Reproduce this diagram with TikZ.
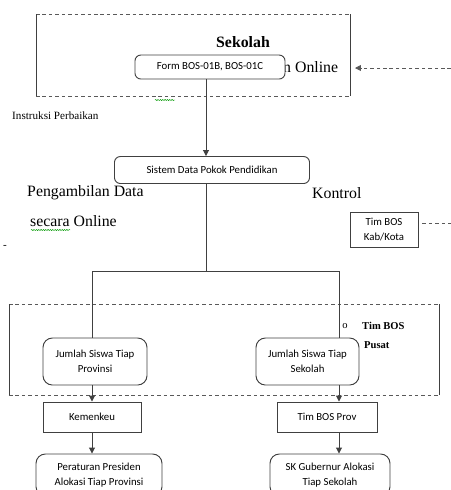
\documentclass[tikz,border=0pt]{standalone}
\usepackage{fontspec}
\setmainfont{Liberation Serif}
\newfontfamily\boxfont{Carlito}
\usetikzlibrary{positioning}
\usetikzlibrary{arrows.meta}
\usetikzlibrary{decorations.pathmorphing}

\begin{document}
\begin{tikzpicture} [x=0.03cm, y=-0.03cm,
	rbox/.style={draw=black!75, line width=0.8pt, rounded corners=5pt, fill=white, align=center, inner sep=0pt, font=\boxfont\fontsize{9.2}{12.75}\selectfont},
	sbox/.style={rbox, rounded corners=0pt},
	bigtext/.style={font=\fontsize{13.5}{16}\selectfont, anchor=west, inner sep=0pt},
	smalltext/.style={font=\fontsize{9.5}{12}\selectfont, anchor=west, inner sep=0pt},
	dashline/.style={black!65, line width=0.7pt, dash pattern=on 3pt off 2.5pt},
	solidline/.style={black!75, line width=0.8pt},
	arr/.style={solidline, -{Triangle[length=5pt, width=5pt]}},
	squiggle/.style={green!60!black, line width=0.4pt, decorate, decoration={snake, amplitude=0.5pt, segment length=2pt}}]
	\clip (0, 0) rectangle (451, 490);
	\useasboundingbox (0, 0) rectangle (451, 490);

	% Sekolah frame
	\draw [dashline] (36, 14)--(350, 14);
	\draw [dashline] (36, 96)--(350, 96);
	\draw [solidline] (36, 14)--(36, 96);
	\draw [solidline] (350, 14)--(350, 96);
	\node [font=\bfseries\fontsize{13.5}{16}\selectfont] (sekolah) at (243, 42) {Sekolah};
	\node [bigtext] (online) at (283, 67) {n Online};
	\coordinate (feed) at (451, 68);
	\draw [dashline, -{Triangle[length=5pt, width=5pt]}] (feed)--(355, 68);
	\draw [squiggle] (155, 100)--(175, 100);
	\node [smalltext] (instruksi) at (12, 116) {Instruksi Perbaikan};

	% Form dan Dapodik
	\node [rbox, minimum width=4.5cm, minimum height=0.72cm] (form) at (210, 67) {Form BOS-01B, BOS-01C};
	\node [rbox, minimum width=5.85cm, minimum height=0.81cm] (dapodik) at (212, 170) {Sistem Data Pokok Pendidikan};
	\coordinate (trunk) at (206, 271);
	\draw [arr] (form.south -| trunk)--(dapodik.north -| trunk);
	\draw [solidline] (dapodik.south -| trunk)--(trunk);

	\node [bigtext] (ambil) at (27, 193) {Pengambilan Data};
	\node [bigtext] (secara) at (30, 221) {secara Online};
	\draw [squiggle] (31, 230)--(70, 230);
	\node [bigtext] (kontrol) at (312, 193) {Kontrol};
	\node [smalltext] (strip) at (3, 247) {-};
	\node [sbox, minimum width=2.04cm, minimum height=1.05cm] (kabkota) at (384, 229.5) {Tim BOS\\Kab/Kota};
	\coordinate (kabend) at (451, 223);
	\draw [dashline] (kabkota.east |- kabend) ++(4, 0)--(kabend);

	% Tim BOS Pusat frame
	\draw [dashline] (9, 304)--(439, 304);
	\draw [dashline] (9, 395)--(439, 395);
	\draw [solidline] (9, 304)--(9, 395);
	\draw [solidline] (439, 304)--(439, 395);
	\node [font=\fontsize{9}{11}\selectfont] (bullet) at (345, 326) {o};
	\node [smalltext, font=\bfseries\fontsize{9}{12}\selectfont] (pusat1) at (362, 326) {Tim BOS};
	\node [smalltext, font=\bfseries\fontsize{9}{12}\selectfont] (pusat2) at (364, 345) {Pusat};

	% cabang kiri dan kanan
	\coordinate (colL) at (92, 271);
	\coordinate (colR) at (339, 271);
	\node [rbox, rounded corners=8pt, minimum width=3.12cm, minimum height=1.41cm] (jmlprov) at (95, 361.5) {Jumlah Siswa Tiap\\Provinsi};
	\node [rbox, rounded corners=8pt, minimum width=3.09cm, minimum height=1.41cm] (jmlsek) at (307.5, 361.5) {Jumlah Siswa Tiap\\Sekolah};
	\node [sbox, minimum width=2.94cm, minimum height=0.9cm] (kemenkeu) at (92, 417) {Kemenkeu};
	\node [sbox, minimum width=3cm, minimum height=0.9cm] (bosprov) at (327, 417) {Tim BOS Prov};
	\node [rbox, rounded corners=8pt, minimum width=3.78cm, minimum height=1.26cm] (perpres) at (99, 475) {Peraturan Presiden\\Alokasi Tiap Provinsi};
	\node [rbox, rounded corners=8pt, minimum width=3.6cm, minimum height=1.26cm] (skgub) at (330, 475) {SK Gubernur Alokasi\\Tiap Sekolah};

	\draw [solidline] (colL)--(colR);
	\draw [solidline] (colL)--(jmlprov.north -| colL);
	\draw [solidline] (colR)--(jmlsek.north -| colR);
	\draw [arr] (jmlprov.south -| colL)--(kemenkeu.north -| colL);
	\draw [arr] (jmlsek.south -| colR)--(bosprov.north -| colR);
	\draw [arr] (kemenkeu.south -| colL)--(perpres.north -| colL);
	\draw [arr] (bosprov.south -| colR)--(skgub.north -| colR);
\end{tikzpicture}
\end{document}
